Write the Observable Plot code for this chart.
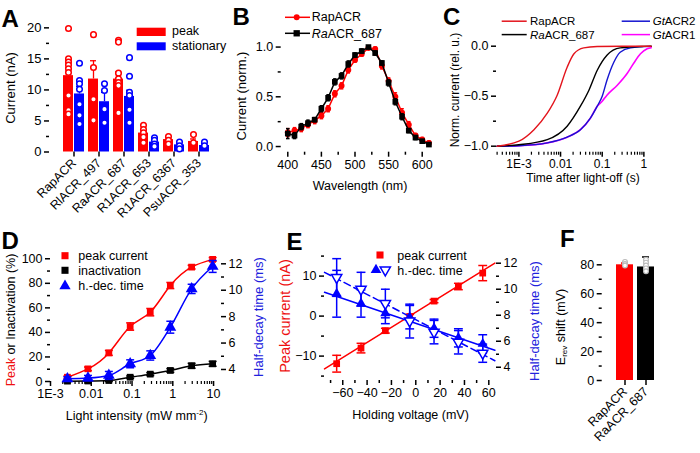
<!DOCTYPE html>
<html><head><meta charset="utf-8">
<script src="https://cdn.jsdelivr.net/npm/d3@7"></script>
<script src="https://cdn.jsdelivr.net/npm/@observablehq/plot@0.6"></script>
<style>
body{margin:0;background:#fff;}
#wrap{position:relative;width:700px;height:453px;overflow:hidden;background:#fff;}
</style></head><body><div id="wrap"></div>
<script>
// ---------------- DATA ----------------
// Panel A
const catsA = ["RapACR","RlACR_497","RaACR_687","R1ACR_653","R1ACR_6367","PsuACR_353"];
const peakMeanA = [12.3, 11.75, 11.75, 3.05, 2.0, 1.7];
const peakErrA  = [1.3, 2.95, 1.15, 0.6, 0.3, 0.4];
const statMeanA = [9.35, 8.1, 8.95, 1.6, 1.15, 1.05];
const statErrA  = [1.2, 1.5, 1.0, 0.3, 0.25, 0.3];
const peakDotsA = [[19.9,15.0,14.5,14.0,13.4,12.8,9.1,6.7,6.1],[18.9,13.6,8.5,5.1],[18.0,17.7,12.7,11.8,11.2,10.7,6.3],[4.3,3.6,3.1,2.4,1.5],[2.5,1.9,1.3],[2.8,1.5]];
const statDotsA = [[14.3,11.5,11.0,10.1,7.7,5.9,4.5],[11.0,9.9,6.9,4.7],[15.2,12.2,9.6,9.1,6.8,4.7],[2.3,1.9,1.3,0.9],[1.6,1.0,0.5],[1.6,1.0]];
const yTicksA = [0,5,10,15,20];

// Panel B
const wlB = [400,410,420,430,440,450,460,470,480,490,500,510,520,530,540,550,560,570,580,590,600,610];
const rapB = [0.14,0.16,0.18,0.22,0.26,0.31,0.38,0.53,0.61,0.77,0.87,0.93,0.99,0.98,0.81,0.66,0.50,0.34,0.22,0.11,0.07,0.035];
const raB  = [0.13,0.11,0.20,0.235,0.27,0.38,0.49,0.65,0.71,0.83,0.92,0.96,1.0,0.94,0.84,0.64,0.45,0.30,0.16,0.09,0.054,0.02];
const errRapB = [0.04,0.03,0.03,0.03,0.03,0.03,0.03,0.03,0.03,0.03,0.02,0.02,0.01,0.02,0.03,0.03,0.04,0.04,0.03,0.02,0.02,0.02];
const errRaB  = [0.05,0.03,0.03,0.03,0.02,0.03,0.03,0.03,0.03,0.03,0.02,0.02,0.01,0.02,0.02,0.03,0.03,0.03,0.02,0.02,0.01,0.01];
const xTicksB = [400,450,500,550,600];
const yTicksB = [0,0.5,1.0];

// Panel C (decay traces, read at selected times)
const tRapC = [3e-4,1e-3,2.3e-3,4.8e-3,8.3e-3,0.0144,0.021,0.036,0.076,0.3,1.5];
const vRapC = [-1.0,-0.95,-0.835,-0.67,-0.49,-0.21,-0.076,-0.017,-0.003,0,0];
const tRaC  = [3e-4,1e-3,4.8e-3,0.0144,0.03,0.048,0.076,0.13,0.27,1.0,1.5];
const vRaC  = [-1.0,-0.985,-0.934,-0.80,-0.6,-0.44,-0.24,-0.09,-0.017,-0.002,0];
const tGt2C = [3e-4,1e-3,4.8e-3,0.0144,0.03,0.052,0.076,0.1,0.13,0.19,0.27,0.48,1.5];
const vGt2C = [-1.0,-0.995,-0.967,-0.91,-0.835,-0.72,-0.6,-0.5,-0.34,-0.16,-0.06,-0.017,-0.002];
const tGt1C = [3e-4,1e-3,4.8e-3,0.0144,0.03,0.052,0.076,0.1,0.13,0.23,0.4,0.57,0.83,1.2,1.5];
const vGt1C = [-1.0,-0.995,-0.967,-0.91,-0.835,-0.72,-0.6,-0.55,-0.49,-0.39,-0.27,-0.17,-0.076,-0.026,-0.015];
const logTicks = [1e-3,0.01,0.1,1,10];
const logLabels = ["1E-3","0.01","0.1","1","10"];

// Panel D
const intensD = [0.0026,0.0083,0.027,0.09,0.28,0.87,2.9,9.5];
const peakD    = [3.5,10.3,23.3,44.8,56.5,78.2,93.2,99.5];
const peakErrD = [1.0,1.5,2.0,3.0,3.0,2.5,1.5,1.5];
const inactD    = [0.3,0.4,0.8,3.5,6.0,9.0,12.8,14.4];
const inactErrD = [0.5,0.5,0.8,1.0,1.2,1.5,2.0,2.0];
const hdtD    = [3.3,3.35,3.55,4.43,5.06,7.2,10.1,11.8];
const hdtErrD = [0.15,0.2,0.3,0.3,0.35,0.45,0.35,0.45];

// Panel E
const voltE = [-65,-45,-25,-5,15,35,55];
const peakE    = [-11.9,-8.0,-3.65,-0.1,3.75,7.4,10.75];
const peakErrE = [2.1,1.2,0.6,0.5,0.4,0.8,1.9];
const hdtFilledE = [9.65,8.9,8.15,7.85,7.0,6.26,5.8];
const errFilledE = [1.8,1.05,0.8,0.9,0.7,0.7,0.7];
const hdtOpenE   = [10.9,10.0,8.9,7.55,6.7,5.92,5.08];
const errOpenE   = [1.45,1.3,1.1,1.3,0.9,0.9,0.7];
const fitVoltE = [-75,65];
const fitPeakE = [-13.2,13.25];
const fitFilledE = [9.77,5.3];
const fitOpenE = [11.3,4.5];

// Panel F
const catsF = ["RapACR","RaACR_687"];
const meanF = [80,78.5];
const errF = [1.2,6.9];
const dotsF = [[82,80.5,79.5],[83.5,81.5,79.5,77.5,75.5]];

// ---------------- RENDER ----------------
const FONT = '"Liberation Sans", Arial, Helvetica, sans-serif';
const wrap = document.getElementById("wrap");
const ST = {fontFamily: FONT, fontSize: "12.5px", background: "transparent", overflow: "visible", color: "#000"};
const RED = "#ff0000", BLUE = "#0000ff";
function place(el, left, top) { el.style.position = "absolute"; el.style.left = left + "px"; el.style.top = top + "px"; wrap.appendChild(el); }
const capSym = {draw(ctx, size) { const s = Math.sqrt(size); ctx.moveTo(-s/2, 0); ctx.lineTo(s/2, 0); }};
const triDown = {draw(ctx, size) { const s3 = Math.sqrt(3); const y = -Math.sqrt(size / (s3 * 3)); ctx.moveTo(0, -2*y); ctx.lineTo(-s3*y, y); ctx.lineTo(s3*y, y); ctx.closePath(); }};
const blank = () => "";
const logFmt = d => { const i = logTicks.findIndex(t => Math.abs(t - d) < t * 1e-6); return i >= 0 ? logLabels[i] : ""; };
function errBars(rows, x, y, e, color, capR, extra = {}) {
  return [
    Plot.ruleX(rows, {x, y1: d => d[y] - d[e], y2: d => d[y] + d[e], stroke: color, strokeWidth: 1.5, ...extra}),
    Plot.dot(rows, {x, y: d => d[y] + d[e], symbol: capSym, r: capR, stroke: color, fill: "none", strokeWidth: 1.5, ...extra}),
    Plot.dot(rows, {x, y: d => d[y] - d[e], symbol: capSym, r: capR, stroke: color, fill: "none", strokeWidth: 1.5, ...extra})
  ];
}
const minorLog = [];
for (let k = -4; k <= 1; k++) for (let m = 2; m <= 9; m++) minorLog.push(m * Math.pow(10, k));

// ---- Panel A
const rowsA = catsA.map((c, i) => ({c, p: peakMeanA[i], pe: peakErrA[i], s: statMeanA[i], se: statErrA[i]}));
const pdA = catsA.flatMap((c, i) => peakDotsA[i].map(v => ({c, v})));
const sdA = catsA.flatMap((c, i) => statDotsA[i].map(v => ({c, v})));
place(Plot.plot({
  width: 240, height: 230, marginLeft: 49, marginRight: 18, marginTop: 23, marginBottom: 78.5, style: ST,
  x: {domain: catsA, paddingInner: 0, paddingOuter: 0.46, align: 0.535, label: null},
  y: {domain: [0, 20.7], label: null},
  marks: [
    Plot.ruleX(rowsA, {x: "c", y1: "p", y2: d => d.p + d.pe, dx: -5.5, stroke: RED, strokeWidth: 1.3}),
    Plot.tickY(rowsA, {x: "c", y: d => d.p + d.pe, insetLeft: 4, insetRight: 15, stroke: RED, strokeWidth: 1.3}),
    Plot.ruleX(rowsA, {x: "c", y1: "s", y2: d => d.s + d.se, dx: 5.5, stroke: BLUE, strokeWidth: 1.3}),
    Plot.tickY(rowsA, {x: "c", y: d => d.s + d.se, insetLeft: 15, insetRight: 4, stroke: BLUE, strokeWidth: 1.3}),
    Plot.barY(rowsA, {x: "c", y: "p", fill: RED, insetLeft: 2, insetRight: 13}),
    Plot.barY(rowsA, {x: "c", y: "s", fill: BLUE, insetLeft: 13, insetRight: 2}),
    Plot.dot(pdA, {x: "c", y: "v", dx: -5.5, r: 2.8, stroke: RED, fill: "white", strokeWidth: 1.5}),
    Plot.dot(sdA, {x: "c", y: "v", dx: 5.5, r: 2.8, stroke: BLUE, fill: "white", strokeWidth: 1.5}),
    Plot.axisY({ticks: yTicksA, tickSize: 5, tickPadding: 3, line: true, strokeWidth: 1.5, label: null, fontSize: 13}),
    Plot.axisY({ticks: [2.5,7.5,12.5,17.5], tickSize: 3, tickFormat: blank, strokeWidth: 1.5, label: null}),
    Plot.axisX({tickRotate: -45, tickSize: 5, tickPadding: 4, line: true, strokeWidth: 1.5, label: null, fontSize: 12.5})
  ]
}), 0, 0);

// ---- Panel B
const rowsB = wlB.map((w, i) => ({w, r: rapB[i], re: errRapB[i], k: raB[i], ke: errRaB[i]}));
place(Plot.plot({
  width: 230, height: 230, marginLeft: 50.7, marginRight: 27, marginTop: 22.7, marginBottom: 78.3, style: ST,
  x: {domain: [390.2, 616.8], label: null},
  y: {domain: [-0.057, 1.24], label: null},
  marks: [
    ...errBars(rowsB, "w", "r", "re", RED, 2),
    Plot.line(rowsB, {x: "w", y: "r", stroke: RED, strokeWidth: 1.5}),
    Plot.dot(rowsB, {x: "w", y: "r", r: 3, fill: RED}),
    ...errBars(rowsB, "w", "k", "ke", "#000", 2),
    Plot.line(rowsB, {x: "w", y: "k", stroke: "#000", strokeWidth: 1.5}),
    Plot.dot(rowsB, {x: "w", y: "k", r: 3.2, symbol: "square", fill: "#000"}),
    Plot.axisY({ticks: yTicksB, tickFormat: d3.format(".1f"), tickSize: 5, tickPadding: 3, line: true, strokeWidth: 1.5, label: null}),
    Plot.axisY({ticks: [0.25, 0.75], tickSize: 3, tickFormat: blank, strokeWidth: 1.5, label: null}),
    Plot.axisX({ticks: xTicksB, tickSize: 5, tickPadding: 3, line: true, strokeWidth: 1.5, label: null}),
    Plot.axisX({ticks: [425,475,525,575], tickSize: 3, tickFormat: blank, strokeWidth: 1.5, label: null})
  ]
}), 230, 0);

// ---- Panel C
const mk = (ts, vs) => ts.map((t, i) => ({t, v: vs[i]}));
place(Plot.plot({
  width: 240, height: 230, marginLeft: 36, marginRight: 49.3, marginTop: 43, marginBottom: 78.3, style: ST,
  x: {type: "log", domain: [2.9e-4, 1.5], label: null},
  y: {domain: [-1.06, 0.027], label: null},
  marks: [
    Plot.line(mk(tGt1C, vGt1C), {x: "t", y: "v", stroke: "#ff00ff", strokeWidth: 1.6, curve: "monotone-x"}),
    Plot.line(mk(tGt2C, vGt2C), {x: "t", y: "v", stroke: "#1515d0", strokeWidth: 1.4, curve: "monotone-x"}),
    Plot.line(mk(tRaC, vRaC), {x: "t", y: "v", stroke: "#000", strokeWidth: 1.4, curve: "monotone-x"}),
    Plot.line(mk(tRapC, vRapC), {x: "t", y: "v", stroke: "#e3141c", strokeWidth: 1.4, curve: "monotone-x"}),
    Plot.axisY({ticks: [-1, -0.5, 0], tickFormat: d3.format(".1f"), tickSize: 5, tickPadding: 3, line: true, strokeWidth: 1.5, label: null}),
    Plot.axisY({ticks: [-0.75, -0.25], tickSize: 3, tickFormat: blank, strokeWidth: 1.5, label: null}),
    Plot.axisX({ticks: logTicks.slice(0, 4), tickFormat: logFmt, tickSize: 5, tickPadding: 2, line: true, strokeWidth: 1.5, label: null, fontSize: 12}),
    Plot.axisX({ticks: minorLog.filter(d => d > 2.9e-4 && d < 1.5), tickSize: 3, tickFormat: blank, strokeWidth: 1.2, label: null})
  ]
}), 460, 0);

// ---- Panel D (left axis plot + right axis overlay)
const rowsD = intensD.map((x, i) => ({x, p: peakD[i], pe: peakErrD[i], n: inactD[i], ne: inactErrD[i], h: hdtD[i], he: hdtErrD[i]}));
const dOpts = {width: 300, height: 228, marginLeft: 50, marginRight: 80, marginTop: 28, marginBottom: 72, style: ST};
place(Plot.plot({
  ...dOpts,
  x: {type: "log", domain: [1e-3, 14.8], label: null},
  y: {domain: [0, 104.3], label: null},
  marks: [
    Plot.line(rowsD, {x: "x", y: "n", stroke: "#000", strokeWidth: 1.5, curve: "monotone-x"}),
    ...errBars(rowsD, "x", "n", "ne", "#000", 4.5),
    Plot.dot(rowsD, {x: "x", y: "n", symbol: "square", r: 3.8, fill: "#000"}),
    Plot.line(rowsD, {x: "x", y: "p", stroke: RED, strokeWidth: 1.5, curve: "natural"}),
    ...errBars(rowsD, "x", "p", "pe", RED, 4.5),
    Plot.dot(rowsD, {x: "x", y: "p", symbol: "square", r: 3.8, fill: RED}),
    Plot.axisY({ticks: [0,20,40,60,80,100], tickSize: 5, tickPadding: 3, line: true, strokeWidth: 1.5, label: null}),
    Plot.axisY({ticks: [10,30,50,70,90], tickSize: 3, tickFormat: blank, strokeWidth: 1.5, label: null}),
    Plot.axisX({ticks: logTicks, tickFormat: logFmt, tickSize: 5, tickPadding: 3, line: true, strokeWidth: 1.5, label: null}),
    Plot.axisX({ticks: minorLog.filter(d => d > 1e-3 && d < 14.8), tickSize: 3, tickFormat: blank, strokeWidth: 1.2, label: null})
  ]
}), 0, 225);
place(Plot.plot({
  ...dOpts,
  x: {type: "log", domain: [1e-3, 14.8], label: null, axis: null},
  y: {domain: [3.09, 12.78], label: null},
  marks: [
    Plot.line(rowsD, {x: "x", y: "h", stroke: BLUE, strokeWidth: 1.5, curve: "monotone-x"}),
    ...errBars(rowsD, "x", "h", "he", BLUE, 4.5),
    Plot.dot(rowsD, {x: "x", y: "h", symbol: "triangle", r: 4.4, fill: BLUE}),
    Plot.axisY({anchor: "right", ticks: [4,6,8,10,12], tickSize: 5, tickPadding: 3, line: true, strokeWidth: 1.5, label: null}),
    Plot.axisY({anchor: "right", ticks: [5,7,9,11], tickSize: 3, tickFormat: blank, strokeWidth: 1.5, label: null})
  ]
}), 0, 225);

// ---- Panel E (left axis plot + right axis overlay)
const rowsE = voltE.map((v, i) => ({v, p: peakE[i], pe: peakErrE[i], f: hdtFilledE[i], fe: errFilledE[i], o: hdtOpenE[i], oe: errOpenE[i]}));
const fitE = fitVoltE.map((v, i) => ({v, p: fitPeakE[i], f: fitFilledE[i], o: fitOpenE[i]}));
const eOpts = {width: 230, height: 228, marginLeft: 24, marginRight: 35, marginTop: 29, marginBottom: 73, style: ST};
place(Plot.plot({
  ...eOpts,
  x: {domain: [-75, 65.5], label: null},
  y: {domain: [-16.1, 15.4], label: null},
  marks: [
    Plot.line(fitE, {x: "v", y: "p", stroke: RED, strokeWidth: 1.5}),
    ...errBars(rowsE, "v", "p", "pe", RED, 5),
    Plot.dot(rowsE, {x: "v", y: "p", symbol: "square", r: 3.8, fill: RED}),
    Plot.axisY({ticks: [-10, 0, 10], tickSize: 5, tickPadding: 3, line: true, strokeWidth: 1.5, label: null}),
    Plot.axisY({ticks: [-15, -5, 5, 15], tickSize: 3, tickFormat: blank, strokeWidth: 1.5, label: null}),
    Plot.axisX({ticks: [-60,-40,-20,0,20,40,60], tickSize: 5, tickPadding: 3, line: true, strokeWidth: 1.5, label: null}),
    Plot.axisX({ticks: [-70,-50,-30,-10,10,30,50], tickSize: 3, tickFormat: blank, strokeWidth: 1.5, label: null})
  ]
}), 300, 225);
place(Plot.plot({
  ...eOpts,
  x: {domain: [-75, 65.5], label: null, axis: null},
  y: {domain: [2.98, 12.67], label: null},
  marks: [
    Plot.line(fitE, {x: "v", y: "o", stroke: BLUE, strokeWidth: 1.5, strokeDasharray: "7,4"}),
    Plot.line(fitE, {x: "v", y: "f", stroke: BLUE, strokeWidth: 1.5}),
    ...errBars(rowsE, "v", "o", "oe", BLUE, 5),
    ...errBars(rowsE, "v", "f", "fe", BLUE, 5),
    Plot.dot(rowsE, {x: "v", y: "f", symbol: "triangle", r: 3.8, fill: BLUE}),
    Plot.dot(rowsE, {x: "v", y: "o", symbol: triDown, r: 3.8, fill: "white", stroke: BLUE, strokeWidth: 1.5}),
    Plot.axisY({anchor: "right", ticks: [4,6,8,10,12], tickSize: 5, tickPadding: 3, line: true, strokeWidth: 1.5, label: null}),
    Plot.axisY({anchor: "right", ticks: [5,7,9,11], tickSize: 3, tickFormat: blank, strokeWidth: 1.5, label: null})
  ]
}), 300, 225);

// ---- Panel F
const rowsF = catsF.map((c, i) => ({c, m: meanF[i], e: errF[i]}));
const dF = catsF.flatMap((c, i) => dotsF[i].map(v => ({c, v})));
const colF = ["#ff0000", "#000000"];
place(Plot.plot({
  width: 170, height: 228, marginLeft: 71.7, marginRight: 33.3, marginTop: 26, marginBottom: 73, style: ST,
  x: {domain: catsF, paddingInner: 0.17, paddingOuter: 0.58, align: 0.526, label: null},
  y: {domain: [0, 89.2], label: null},
  color: {domain: catsF, range: colF},
  marks: [
    Plot.ruleX(rowsF, {x: "c", y1: "m", y2: d => d.m + d.e, stroke: "c", strokeWidth: 1.5}),
    Plot.tickY(rowsF, {x: "c", y: d => d.m + d.e, inset: 5, stroke: "c", strokeWidth: 1.5}),
    Plot.barY(rowsF, {x: "c", y: "m", fill: "c"}),
    Plot.dot(dF, {x: "c", y: "v", r: 2.4, stroke: "#bbb", fill: "white", strokeWidth: 1.2}),
    Plot.axisY({ticks: [0,20,40,60,80], tickSize: 5, tickPadding: 3, line: true, strokeWidth: 1.5, label: null}),
    Plot.axisY({ticks: [10,30,50,70], tickSize: 3, tickFormat: blank, strokeWidth: 1.5, label: null}),
    Plot.axisX({tickRotate: -45, tickSize: 5, tickPadding: 4, line: true, strokeWidth: 1.5, label: null})
  ]
}), 530, 225);

// ---------------- OVERLAY: letters, titles, legends ----------------
const ov = d3.create("svg").attr("width", 700).attr("height", 453)
  .style("position", "absolute").style("left", "0px").style("top", "0px").style("font-family", FONT);
function txt(x, y, segs, o = {}) {
  const t = ov.append("text").attr("font-size", o.size || 12).attr("text-anchor", o.anchor || "start").attr("fill", o.fill || "#000");
  if (o.weight) t.attr("font-weight", o.weight);
  if (o.rotate) t.attr("transform", `translate(${x},${y}) rotate(${o.rotate})`).attr("dominant-baseline", "central");
  else t.attr("x", x).attr("y", y);
  (Array.isArray(segs) ? segs : [{t: segs}]).forEach(s => {
    const sp = t.append("tspan").text(s.t);
    if (s.fill) sp.attr("fill", s.fill);
    if (s.italic) sp.attr("font-style", "italic");
    if (s.dy) sp.attr("dy", s.dy);
    if (s.size) sp.attr("font-size", s.size);
  });
}
function sym(type, x, y, size, fill, stroke) {
  ov.append("path").attr("d", d3.symbol().type(type).size(size)()).attr("transform", `translate(${x},${y})`)
    .attr("fill", fill || "none").attr("stroke", stroke || "none").attr("stroke-width", 1.5);
}
function seg(x1, x2, y, color, w = 1.5) {
  ov.append("line").attr("x1", x1).attr("x2", x2).attr("y1", y).attr("y2", y).attr("stroke", color).attr("stroke-width", w);
}
// panel letters
[["A", 1.5, 26.5], ["B", 232.5, 25], ["C", 443, 25], ["D", 1.5, 248.5], ["E", 286.5, 250], ["F", 560, 247]]
  .forEach(([l, x, y]) => txt(x, y, l, {size: 24, weight: "bold"}));
// A
ov.append("rect").attr("x", 136.7).attr("y", 27.7).attr("width", 29).attr("height", 8.3).attr("fill", RED);
ov.append("rect").attr("x", 136.7).attr("y", 42.3).attr("width", 29).attr("height", 8).attr("fill", BLUE);
txt(172, 35, "peak", {size: 12.5});
txt(172, 49.5, "stationary", {size: 12.5});
txt(9.5, 88, "Current (nA)", {size: 13, rotate: -90, anchor: "middle"});
// B
seg(285, 310, 17.3, RED); sym(d3.symbolCircle, 296.7, 17.3, 28, RED);
seg(285, 310, 33.3, "#000"); sym(d3.symbolSquare, 296.7, 33.3, 40, "#000");
txt(311.7, 21.3, "RapACR", {size: 12.5});
txt(311.7, 37.5, [{t: "Ra", italic: true}, {t: "ACR_687"}], {size: 12.5});
txt(241, 96, "Current (norm.)", {size: 13, rotate: -90, anchor: "middle"});
txt(360, 190, "Wavelength (nm)", {size: 12.5, anchor: "middle"});
// C
seg(501.7, 526.7, 21.2, "#e3141c"); seg(501.7, 526.7, 34.6, "#000");
seg(621.7, 650, 21.2, "#1515d0"); seg(621.7, 650, 34.6, "#ff00ff");
txt(530, 25.3, "RapACR", {size: 11.5});
txt(530, 38.7, [{t: "Ra", italic: true}, {t: "ACR_687"}], {size: 11.5});
txt(652.7, 25.3, [{t: "Gt", italic: true}, {t: "ACR2"}], {size: 11.5});
txt(652.7, 38.7, [{t: "Gt", italic: true}, {t: "ACR1"}], {size: 11.5});
txt(455, 90, "Norm. current (rel. u.)", {size: 12, rotate: -90, anchor: "middle"});
txt(583, 182, "Time after light-off (s)", {size: 12, anchor: "middle"});
// D
sym(d3.symbolSquare, 65, 255.7, 50, RED); sym(d3.symbolSquare, 65, 270.3, 50, "#000"); sym(d3.symbolTriangle, 65, 286, 55, BLUE);
txt(78.3, 260, "peak current", {size: 12.5});
txt(78.3, 274.5, "inactivation", {size: 12.5});
txt(78.3, 290, "h.-dec. time", {size: 12.5});
txt(11, 320, [{t: "Peak", fill: "#ee1111"}, {t: " or Inactivation (%)"}], {size: 12.5, rotate: -90, anchor: "middle"});
txt(258, 317, "Half-decay time (ms)", {size: 13, rotate: -90, anchor: "middle", fill: "#2222dd"});
txt(136.7, 420, [{t: "Light intensity (mW mm"}, {t: "-2", size: 8, dy: -5}, {t: ")", dy: 5}], {size: 12.5, anchor: "middle"});
// E
sym(d3.symbolSquare, 380, 255, 50, RED);
sym(d3.symbolTriangle, 376, 270, 50, BLUE);
ov.append("path").attr("d", d3.symbol().type(triDown).size(45)()).attr("transform", "translate(385.3,270)").attr("fill", "white").attr("stroke", BLUE).attr("stroke-width", 1.5);
txt(397.3, 259.5, "peak current", {size: 12.5});
txt(397.3, 274.5, "h.-dec. time", {size: 12.5});
txt(285, 316, "Peak current (nA)", {size: 14.5, rotate: -90, anchor: "middle", fill: "#ee1111"});
txt(534, 321, "Half-decay time (ms)", {size: 13, rotate: -90, anchor: "middle", fill: "#2222dd"});
txt(410.5, 419, "Holding voltage (mV)", {size: 12.5, anchor: "middle"});
// F
txt(561, 327, [{t: "E"}, {t: "rev", size: 8, dy: 3}, {t: " shift (mV)", dy: -3}], {size: 12.5, rotate: -90, anchor: "middle"});
wrap.appendChild(ov.node());
</script></body></html>
